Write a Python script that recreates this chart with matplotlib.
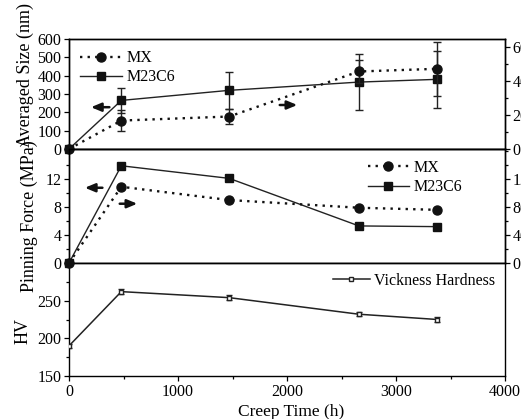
import matplotlib
matplotlib.use("Agg")
import matplotlib.pyplot as plt
from matplotlib.ticker import MultipleLocator, FixedLocator

plt.rcParams['font.family'] = ['Liberation Serif', 'DejaVu Serif']
plt.rcParams['mathtext.fontset'] = 'stix'

# ---- data ----
time = [0, 480, 1470, 2660, 3380]
m23_size = [0, 265, 320, 365, 380]
m23_size_err = [0, 70, 100, 154, 155]
mx_size = [0, 16.8, 19.2, 45.8, 47.4]
mx_size_err = [0, 6, 4.5, 6.6, 16]
m23_force = [0, 13.9, 12.1, 5.3, 5.2]
mx_force = [0, 109, 90, 79, 76]
hv = [190, 262, 254, 232, 225]
hv_err = [3, 3, 3, 3, 3]
x_ticks = [0, 1000, 2000, 3000, 4000]
size_ticks = [0, 100, 200, 300, 400, 500, 600]
size_r_ticks = [0, 20, 40, 60]
force_ticks = [0, 4, 8, 12]
force_r_ticks = [0, 40, 80, 120]
hv_ticks = [150, 200, 250]

W, H = 521, 419
fig = plt.figure(figsize=(W / 100, H / 100), dpi=100)
L, R = 69 / W, (505 - 69) / W


def axrect(top, bot):
    return [L, 1 - bot / H, R, (bot - top) / H]


ax1 = fig.add_axes(axrect(39, 149))
ax2 = fig.add_axes(axrect(149, 263))
ax3 = fig.add_axes(axrect(263, 376))
ax1r = ax1.twinx()
ax2r = ax2.twinx()

FS_T = 11.5
for a in (ax1, ax2, ax3, ax1r, ax2r):
    a.set_xlim(0, 4000)
    a.xaxis.set_major_locator(MultipleLocator(1000))
    a.xaxis.set_minor_locator(MultipleLocator(500))
    a.tick_params(which='both', direction='out', labelsize=FS_T, width=0.9, pad=2)
    a.tick_params(which='major', length=3.5)
    a.tick_params(which='minor', length=2.5)
    for s in a.spines.values():
        s.set_linewidth(1.0)
for a in (ax1, ax2, ax1r, ax2r):
    a.tick_params(axis='x', which='both', bottom=False, labelbottom=False)

ax3.set_xticks(x_ticks)
ax3.set_xticklabels([str(v) for v in x_ticks])

mcol = '#111111'
dot_style = (0, (1, 2.2))
# ---- top panel ----
ax1.set_ylim(0, 600)
ax1.yaxis.set_major_locator(FixedLocator(size_ticks))
ax1r.set_ylim(0, 65)
ax1r.yaxis.set_major_locator(FixedLocator(size_r_ticks))
ax1r.yaxis.set_minor_locator(MultipleLocator(10))

ax1.errorbar(time[1:], m23_size[1:], yerr=m23_size_err[1:], fmt='none', ecolor='#222222',
             elinewidth=1.0, capsize=3, capthick=1.0)
l_m23, = ax1.plot(time, m23_size, '-', color='#222222', lw=1.0, marker='s', ms=5.5,
                  mfc=mcol, mec=mcol, clip_on=False, zorder=3)
ax1r.errorbar(time[1:], mx_size[1:], yerr=mx_size_err[1:], fmt='none', ecolor='#222222',
              elinewidth=1.0, capsize=3, capthick=1.0)
l_mx, = ax1r.plot(time, mx_size, linestyle=dot_style, color=mcol, lw=1.7, marker='o', ms=6.5,
                  mfc=mcol, mec=mcol, clip_on=False, zorder=3)
ax1.legend([l_mx, l_m23], ['MX', 'M23C6'], loc='upper left', frameon=False, fontsize=11.5,
           handlelength=2.6, handletextpad=0.3, labelspacing=0.2,
           bbox_to_anchor=(0.0, 1.0), borderaxespad=0.3)

# ---- middle panel ----
ax2.set_ylim(0, 16.3)
ax2.yaxis.set_major_locator(FixedLocator(force_ticks))
ax2.yaxis.set_minor_locator(MultipleLocator(2))
ax2r.set_ylim(0, 163)
ax2r.yaxis.set_major_locator(FixedLocator(force_r_ticks))
ax2r.yaxis.set_minor_locator(MultipleLocator(20))
l2_m23, = ax2.plot(time, m23_force, '-', color='#222222', lw=1.0, marker='s', ms=5.5,
                   mfc=mcol, mec=mcol, clip_on=False, zorder=3)
l2_mx, = ax2r.plot(time, mx_force, linestyle=dot_style, color=mcol, lw=1.7, marker='o', ms=6.5,
                   mfc=mcol, mec=mcol, clip_on=False, zorder=3)
ax2r.legend([l2_mx, l2_m23], ['MX', 'M23C6'], loc='upper left', frameon=False, fontsize=11.5,
            handlelength=2.6, handletextpad=0.3, labelspacing=0.2,
            bbox_to_anchor=(0.67, 0.96), borderaxespad=0.0)

# ---- bottom panel ----
ax3.set_ylim(150, 300)
ax3.yaxis.set_major_locator(FixedLocator(hv_ticks))
ax3.yaxis.set_minor_locator(MultipleLocator(25))
ax3.errorbar(time, hv, yerr=hv_err, fmt='none', ecolor='#222222', elinewidth=1.0,
             capsize=2.5, capthick=1.0)
l3, = ax3.plot(time, hv, '-', color='#222222', lw=1.1, marker='s', ms=3.5,
               mfc='white', mec='#222222', mew=1.0, zorder=3)
ax3.legend([l3], ['Vickness Hardness'], loc='upper right', frameon=False, fontsize=11.5,
           handlelength=2.3, handletextpad=0.3, borderaxespad=0.2)

# ---- arrows ----
ak = dict(arrowstyle='-|>,head_length=0.6,head_width=0.25', color='#111111', lw=1.8)
ax1.annotate('', xy=(0.044, 0.38), xytext=(0.099, 0.38), xycoords='axes fraction',
             textcoords='axes fraction', arrowprops=ak)
ax1.annotate('', xy=(0.530, 0.40), xytext=(0.477, 0.40), xycoords='axes fraction',
             textcoords='axes fraction', arrowprops=ak)
ax2.annotate('', xy=(0.030, 0.66), xytext=(0.083, 0.66), xycoords='axes fraction',
             textcoords='axes fraction', arrowprops=ak)
ax2.annotate('', xy=(0.163, 0.52), xytext=(0.110, 0.52), xycoords='axes fraction',
             textcoords='axes fraction', arrowprops=ak)

# ---- labels ----
FS_L = 13
fig.text(25 / W, 1 - 75 / H, 'Averaged Size (nm)', rotation=90, ha='center', va='center', fontsize=FS_L)
fig.text(29 / W, 1 - 216 / H, 'Pinning Force (MPa)', rotation=90, ha='center', va='center', fontsize=FS_L)
fig.text(23 / W, 1 - 331 / H, 'HV', rotation=90, ha='center', va='center', fontsize=FS_L)
fig.text(291 / W, 1 - 412 / H, 'Creep Time (h)', ha='center', va='center', fontsize=12.5)

fig.savefig('out.png', dpi=100)
